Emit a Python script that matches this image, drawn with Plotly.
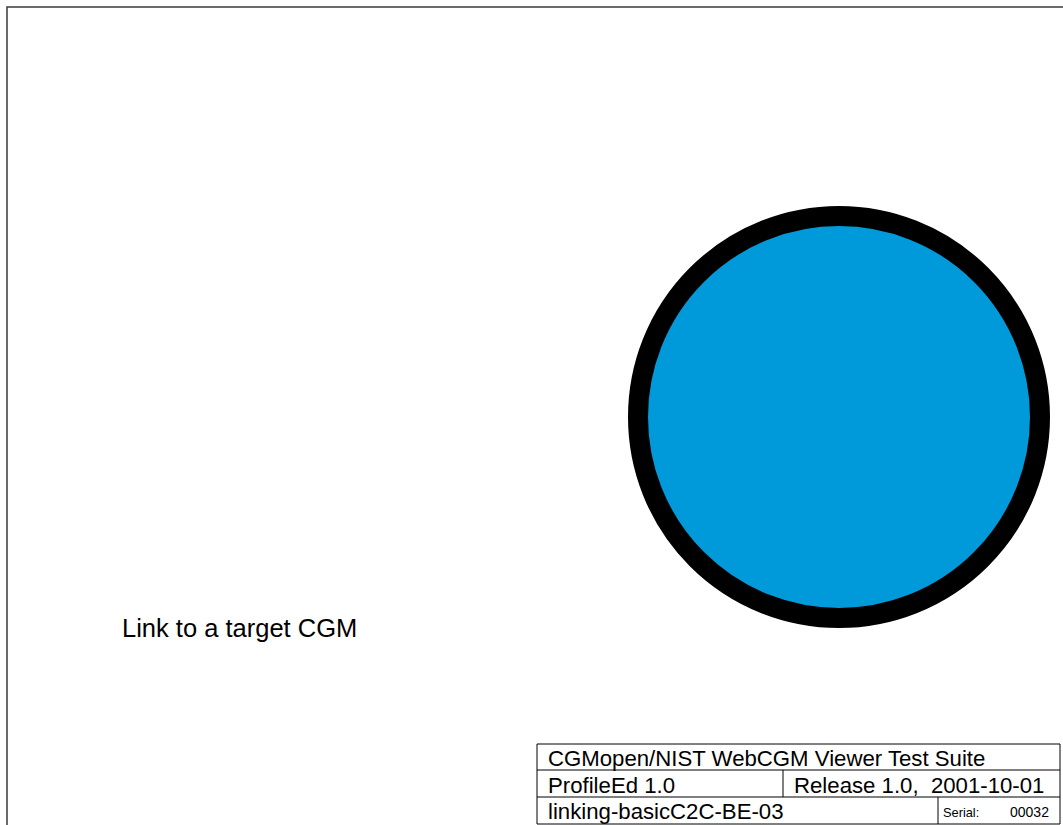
import plotly.graph_objects as go

# ---- data ----
title_rows = ["CGMopen/NIST WebCGM Viewer Test Suite", "ProfileEd 1.0", "linking-basicC2C-BE-03"]
release_text = ["Release 1.0,  2001-10-01"]
serial_labels = ["Serial:", "00032"]
link_label = ["Link to a target CGM"]
circle_center = [839, 417]
circle_radius = [201]

W, H = 1063, 825
FONT = "Liberation Sans, Arial, sans-serif"

fig = go.Figure()
fig.add_trace(go.Scatter(x=[0, W], y=[0, H], mode="markers", marker=dict(opacity=0),
                         hoverinfo="skip", showlegend=False))

shapes = []
# frame
shapes.append(dict(type="rect", x0=7, y0=7, x1=1200, y1=1000, line=dict(color="#3a3a3a", width=1.5),
                   fillcolor="rgba(0,0,0,0)"))
# circle
cx, cy = circle_center
r = circle_radius[0]
shapes.append(dict(type="circle", x0=cx - r, x1=cx + r, y0=cy - r, y1=cy + r,
                   line=dict(color="black", width=20), fillcolor="#009ADA"))
# title block
tb = dict(color="black", width=1)
shapes.append(dict(type="rect", x0=537, y0=744, x1=1060, y1=824, line=tb))
shapes.append(dict(type="line", x0=537, y0=770, x1=1060, y1=770, line=tb))
shapes.append(dict(type="line", x0=537, y0=797, x1=1060, y1=797, line=tb))
shapes.append(dict(type="line", x0=783, y0=770, x1=783, y1=797, line=tb))
shapes.append(dict(type="line", x0=938, y0=797, x1=938, y1=824, line=tb))

ann = []
def txt(x, y, s, size):
    ann.append(dict(x=x, y=y, text=s, showarrow=False, xanchor="left", yanchor="middle",
                    font=dict(family=FONT, size=size, color="black"), xref="x", yref="y",
                    borderpad=0))

txt(547, 758, title_rows[0], 22.2)
txt(547, 785, title_rows[1], 22.2)
txt(547, 811, title_rows[2], 22.2)
txt(793, 785, release_text[0], 22.2)
txt(942, 812, serial_labels[0], 12.8)
txt(1009, 812, serial_labels[1], 14)
txt(121, 628, link_label[0], 25.5)

fig.update_layout(width=W, height=H, autosize=False, margin=dict(l=0, r=0, t=0, b=0),
                  plot_bgcolor="white", paper_bgcolor="white", shapes=shapes, annotations=ann,
                  xaxis=dict(range=[0, W], visible=False, fixedrange=True),
                  yaxis=dict(range=[H, 0], visible=False, fixedrange=True),
                  showlegend=False, hovermode=False)
fig.write_html("out.html", config={"displayModeBar": False, "staticPlot": True},
               post_script="document.body.style.margin='0';document.body.style.overflow='hidden';")
